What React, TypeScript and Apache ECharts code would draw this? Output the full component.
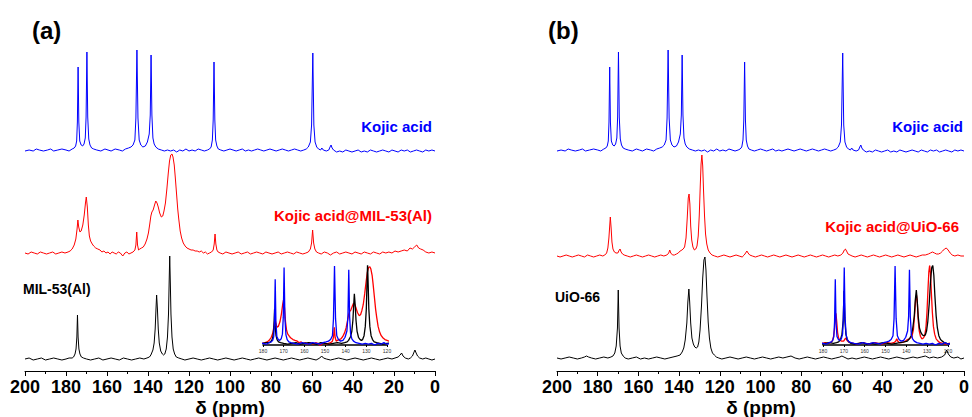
import React, { useEffect, useRef } from "react";
import * as echarts from "echarts";

// ---- Data: [chemical shift (ppm), intensity (a.u., baseline = 0)] ----
const kojicAcid: number[][] = [
  [200,-1],[198,0],[196,-1],[194.5,1],[193,0],[191,-1],[189,0],[187.5,1],[186,-1],[184,0],[182,1],[180,0],[178.5,-1],[177,1],
  [176,2],[175.3,4],[174.8,9],[174.45,28],[174.1,83],[173.75,28],[173.3,9],[172.6,5],[171.9,4],[171.2,6],[170.6,12],[170.2,33],[169.8,98],[169.4,33],[168.9,11],[168.3,5],[167.5,2],[166.5,1],
  [165,0],[163,-1],[161,1],[159.5,0],[158,-1],[156,1],[154,0],[152.5,-1],[151,1],[149.5,2],[148.3,3],
  [147.3,5],[146.4,10],[145.9,32],[145.4,100],[144.9,32],[144.3,10],[143.5,5],[142.5,3],[141.3,4],[140.3,8],[139.4,16],[138.9,35],[138.5,95],[138.1,35],[137.6,12],[137,6],[136.2,3],[135,1],
  [133.5,0],[132,-1],[130.5,0],[129,-1],[127.5,0],[126,-2],[124.5,0],[123,-1],[121.5,1],[120,-1],[118.5,0],[117,-1],[115.5,1],[114,0],[112.5,-1],[111,0],[110,1],[109.2,3],[108.6,10],[108.2,30],[107.8,88],[107.4,30],[107,10],[106.4,4],[105.7,1],
  [104.5,0],[103,-1],[101.5,0],[100,1],[98.5,0],[97,-1],[95.5,0],[94,1],[92.5,-1],[91,0],[89.5,-1],[88,0],[86.5,1],[85,0],[83.5,-1],[82,0],[80.5,1],[79,0],[77.5,-1],[76,0],[74.5,1],[73,0],[71.5,-1],[70,0],[68.5,1],[67,0],[65.5,-1],[64,0],[62.8,1],[61.8,3],[60.8,8],[60.2,25],[59.6,97],[59.1,25],[58.5,8],[57.7,3],[56.8,1],[55.8,0],[55.2,2],[54.5,0],[53,-1],[51.8,0],[51.2,3],[50.7,5],[50.2,2],[49.5,0],
  [48,-2],[46.5,-1],[45,-2],[43.5,0],[42,-1],[40.5,-2],[39,-1],[37.5,0],[36,-2],[34.5,-1],[33,-2],[31.5,0],[30,-1],[28.5,-2],[27,-1],[25.5,0],[24,-1],[22.5,-2],[21,0],[19.5,-1],[18,-2],[16.5,0],[15,-1],[13.5,0],[12,-2],[10.5,-1],[9,0],[7.5,-1],[6,-2],[4.5,0],[3,-1],[1.5,0],[0,-1],
];

const kojicMil53: number[][] = [
  [200,0],[198.5,-1],[197,1],[195.5,0],[194,-1],[192.5,1],[191,0],[189.5,-1],[188,0],[186.5,1],[185,-1],[183.5,0],[182,1],[180.5,0],[179,1],[178,2],[177,4],[176,8],[175.2,14],[174.6,24],[174.2,33],[173.8,26],[173.2,21],[172.6,22],[171.8,28],[171.1,38],[170.5,50],[170.1,56],[169.6,46],[169.1,28],[168.6,17],[168,12],[167.2,9],[166.5,7],[165.5,5],[164.5,4],[163.4,3],[162.5,1],[161.5,2],[160.5,0],[159.5,1],[158.5,-1],[157.5,1],[156.5,0],[155.5,-1],[154.5,1],[153.5,0],[152.3,-3],[151.3,0],[150.3,1],[149.3,-1],[148.3,0],[147.3,1],
  [146.4,3],[145.9,8],[145.5,21],[145.1,8],[144.6,3],[144,4],[143.2,5],[142.3,6],[141.4,9],[140.5,14],[139.8,20],[139.2,28],[138.6,37],[138.1,41],[137.5,43],[136.8,48],[136.2,52],[135.6,50],[135,46],[134.3,40],[133.5,36],[132.8,37],[132.2,42],[131.5,50],[130.8,64],[130.1,80],[129.5,92],[128.9,98],[128.3,99],[127.8,96],[127.2,88],[126.7,76],[126.1,60],[125.5,44],[125,34],[124.3,22],[123.6,15],[122.8,10],[121.9,7],[121,5],[120,4],[119,3],[118,3],[117,2],[116,2],[115,1],[114,2],[113,0],[112,1],[111,-1],[110,0],[109,1],
  [108.2,3],[107.7,9],[107.3,19],[106.9,9],[106.4,3],[105.8,1],[104.8,0],[103.5,-1],[102,1],[100.5,0],[99,-1],[97.5,0],[96,1],[94.5,-1],[93,0],[91.5,1],[90,-1],[88.5,0],[87,1],[85.5,0],[84,-1],[82.5,1],[81,0],[79.5,-1],[78,0],[76.5,1],[75,-1],[73.5,0],[72,1],[70.5,0],[69,-1],[67.5,1],[66,0],[64.5,-1],[63,0],[61.8,1],[60.8,4],[60.2,10],[59.7,23],[59.2,10],[58.6,4],[57.8,1],[56.8,0],[55.5,-1],[54,1],[52.5,0],[51,-2],[49.5,0],[48,1],[46.5,-1],[45,0],[43.5,1],[42,0],[40.5,-1],[39,1],[37.5,0],[36,-1],[34.5,1],[33,0],[31.5,-1],[30,1],[28.5,0],[27,-1],[25.5,1],[24,0],[22.5,1],[21,0],[19.5,2],[18,1],[16.5,2],[15,3],[13.5,2],[12.2,5],[11,4],[10,6],[8.9,8],[8,5],[7,4],[5.8,3],[4.5,1],[3,0],[1.5,1],[0,0],
];

const mil53: number[][] = [
  [200,0],[198,1],[196,-1],[194,0],[192,1],[190,-1],[188,0],[186,1],[184,0],[182,-1],[180,0],[178.5,1],[177,1],[176.3,2],[175.6,5],[175.1,10],[174.7,22],[174.4,44],[174.1,22],[173.7,10],[173.2,5],[172.5,2],[171.5,1],[170,0],[168,-1],[166,0],[164,1],[162,-1],[160,0],[158,1],[156,0],[154,-1],[152,1],[150,0],[148,-1],[146,0],[144,1],[142,0],[140.5,1],[139.3,2],
  [138.6,4],[137.6,9],[137,16],[136.5,30],[136.1,50],[135.8,64],[135.4,50],[135,30],[134.5,16],[133.8,8],[133,5],[132.4,4],[131.8,5],[131.1,10],[130.5,22],[130,45],[129.7,75],[129.4,103],[129.1,75],[128.8,45],[128.3,22],[127.7,10],[127,5],[126.2,2],[125,1],
  [123.5,0],[122,-1],[120,0],[118,1],[116,0],[114,-1],[112,0],[110,1],[108,0],[106,-1],[104,0],[102,1],[100,0],[98,-1],[96,0],[94,1],[92,0],[90,-1],[88,0],[86,1],[84,0],[82,-1],[80,0],[78,1],[76,0],[74,-1],[72,0],[70,1],[68,0],[66,-1],[64,0],[62,1],[60,0],[58,-1],[56.2,1],[55.3,3],[54.4,1],[53,0],[51,-1],[49,0],[47,1],[45,0],[43,-1],[41,0],[39,1],[37,0],[35,-1],[33,0],[31,1],[29,0],[27,-1],[25,0],[23,1],[21,0],[19.5,1],[18,2],[17,4],[16.3,6],[15.6,3],[14.5,1],[13,0],[12,1],[11,3],[10.4,6],[9.8,9],[9.2,6],[8.5,3],[7.5,1],[6,0],[4.5,1],[3,0],[1.5,-1],[0,0],
];

const kojicUio66: number[][] = [
  [200,0],[198.5,-1],[197,0],[195.5,1],[194,0],[192.5,-1],[191,0],[189.5,1],[188,0],[186.5,-1],[185,1],[183.5,0],[182,-1],[180.5,0],[179,1],[177.5,0],[176.5,1],[175.6,3],[175,8],[174.5,18],[174.1,30],[173.8,39],[173.4,28],[173,14],[172.5,7],[171.8,4],[171,3],[170.1,3],[169.4,6],[169,7],[168.5,4],[167.8,2],[167,1],[165.5,0],[164,-1],[162.5,0],[161,1],[159.5,0],[158,-1],[156.5,0],[155,1],[153.5,0],[152,-1],[150.5,0],[149,1],[147.5,0],[146,1],
  [145.1,3],[144.6,6],[144.1,3],[143.2,1],[142.3,1],[141.3,2],[140.4,3],[139.5,5],[138.6,6],[138,7],[137.3,9],[136.6,18],[136,38],[135.5,58],[135.1,62],[134.7,52],[134.3,30],[133.8,16],[133.2,9],[132.5,6],[131.8,7],[131.2,10],[130.6,20],[130.1,40],[129.6,70],[129.2,92],[128.8,101],[128.4,90],[128,66],[127.5,40],[127,22],[126.4,12],[125.7,6],[124.8,3],[123.8,1],
  [122.5,0],[121,-1],[119.5,0],[118,1],[116.5,0],[115,-1],[113.5,0],[112,1],[110.5,0],[109,-1],[108,1],[107.3,3],[106.7,5],[106.1,3],[105.3,1],[104,0],[102.5,-1],[101,0],[99.5,1],[98,0],[96.5,-1],[95,0],[93.5,1],[92,0],[90.5,-1],[89,0],[87.5,1],[86,0],[84.5,-1],[83,0],[81.5,1],[80,0],[78.5,-1],[77,0],[75.5,1],[74,0],[72.5,-1],[71,0],[69.5,1],[68,0],[66.5,-1],[65,0],[63.5,1],[62,0],[60.5,1],[59.5,3],[58.8,6],[58.3,7],[57.7,5],[57,2],[56,1],[55,0],[53.5,-1],[52,0],[50.5,1],[49,0],[47.5,-1],[46,0],[44.5,1],[43,0],[41.5,-1],[40,0],[38.5,1],[37,0],[35.5,-1],[34,0],[32.5,1],[31,0],[29.5,-1],[28,0],[26.5,1],[25,0],[23.5,-1],[22,0],[20.5,1],[19,1],[17.5,2],[16.5,3],[15.5,4],[14.5,3],[13.5,2],[12.5,2],[11.5,3],[10.5,5],[9.6,7],[8.7,8],[7.8,6],[6.8,3],[5.8,1],[4.5,0],[3,1],[1.5,0],[0,0],
];

const uio66: number[][] = [
  [200,0],[198,-1],[196,0],[194,1],[192,0],[190,-1],[188,0],[186.5,1],[185.5,2],[184.5,1],[183,0],[181,-1],[179,0],[177,1],[175,0],[173.5,1],[172.5,2],[171.6,5],[170.9,12],[170.3,30],[169.9,68],[169.5,30],[169,12],[168.4,5],[167.5,2],[166.5,0],[165,-1],[163,0],[161,1],[159,-1],[157,0],[155,-1],[153,0],[151,1],[149,0],[147,-1],[145,0],[143,1],[141,2],[139.5,3],
  [138.5,6],[137.7,10],[137,18],[136.2,35],[135.7,56],[135.2,69],[134.8,56],[134.3,35],[133.7,20],[133,14],[132.3,11],[131.6,10],[130.9,11],[130.3,16],[129.7,28],[129,52],[128.4,80],[127.8,98],[127.3,101],[126.8,88],[126.3,62],[125.7,36],[125.1,20],[124.4,10],[123.6,5],[122.7,3],[121.7,1],
  [120.5,0],[119,-1],[117,0],[115,1],[113,0],[111,-1],[109,0],[107,1],[105,0],[103,-1],[101,0],[99,1],[97,0],[95,-1],[93,0],[91,1],[89,0],[87,1],[85,2],[83,0],[81,-1],[79,0],[77,1],[75,0],[73,-1],[71,0],[69,1],[67,0],[65,-1],[63,0],[61,1],[60,2],[59,1],[57,-1],[55,0],[53,-1],[51,0],[49,1],[47,0],[45,-1],[43,0],[41,1],[39,0],[37,-1],[35,0],[33,1],[31,0],[29,-1],[27,0],[25,1],[23,0],[21,1],[19,2],[17,0],[15,1],[13,0],[11,1],[9.5,3],[8.5,8],[7.7,4],[6.5,1],[5,0],[3,1],[1.5,-1],[0,0],
];

const mainTicks = { min: 0, max: 200, interval: 20 };
const insetTicks = { min: 120, max: 180, interval: 10 };
const panelLetters = ["(a)", "(b)"];
const traceNames = ["Kojic acid", "Kojic acid@MIL-53(Al)", "MIL-53(Al)", "Kojic acid@UiO-66", "UiO-66"];
const axisTitle = "δ (ppm)";

const FONT = "'Liberation Sans', Arial, Helvetica, sans-serif";
const BLUE = "#0000ff";
const RED = "#ff0000";
const BLACK = "#000000";

// stacking offsets (intensity units) for the traces in the main panels
const OFF_TOP = 221;
const OFF_A_MID = 118;
const OFF_A_BOT = 12;
const OFF_B_MID = 115;
const OFF_B_BOT = 13;

const shift = (d: number[][], off: number) => d.map(([x, y]) => [x, y + off]);

function mainXAxis(gridIndex: number) {
  return {
    type: "value",
    gridIndex,
    min: mainTicks.min,
    max: mainTicks.max,
    interval: mainTicks.interval,
    inverse: true,
    splitLine: { show: false },
    axisLine: { show: true, onZero: false, lineStyle: { color: BLACK, width: 1 } },
    axisTick: { show: true, length: 5, lineStyle: { color: BLACK, width: 1 } },
    minorTick: { show: true, splitNumber: 2, length: 3, lineStyle: { color: BLACK, width: 1 } },
    axisLabel: { color: BLACK, fontSize: 18, fontWeight: "bold", fontFamily: FONT, margin: 7, lineHeight: 18 },
  };
}

function insetXAxis(gridIndex: number) {
  return {
    type: "value",
    gridIndex,
    min: insetTicks.min,
    max: insetTicks.max,
    interval: insetTicks.interval,
    inverse: true,
    splitLine: { show: false },
    axisLine: { show: true, onZero: false, lineStyle: { color: BLACK, width: 1.5 } },
    axisTick: { show: true, length: 2, lineStyle: { color: BLACK, width: 1 } },
    axisLabel: { color: "#333", fontSize: 5, fontFamily: FONT, margin: 3 },
  };
}

function yAxis(gridIndex: number, min: number, max: number) {
  return { type: "value", gridIndex, min, max, show: false, splitLine: { show: false } };
}

function line(name: string, data: number[][], color: string, axisIndex: number, width: number, z: number) {
  return {
    type: "line",
    name,
    data,
    xAxisIndex: axisIndex,
    yAxisIndex: axisIndex,
    symbol: "none",
    showSymbol: false,
    clip: true,
    z,
    lineStyle: { color, width },
    itemStyle: { color },
    emphasis: { disabled: true },
  };
}

function label(text: string, x: number, y: number, fill: string, align: string, size = 15) {
  return {
    type: "text",
    x,
    y,
    style: { text, fill, font: `bold ${size}px ${FONT}`, align, verticalAlign: "middle", lineHeight: size },
  };
}

export default function App() {
  const ref = useRef<HTMLDivElement>(null);

  useEffect(() => {
    if (!ref.current) return;
    const chart = echarts.init(ref.current, undefined, { renderer: "svg" });
    const option: any = {
      animation: false,
      backgroundColor: "#ffffff",
      grid: [
        { left: 25, top: 40, width: 410, height: 331 },
        { left: 557, top: 40, width: 408, height: 331 },
        { left: 263, top: 266, width: 124, height: 79 },
        { left: 823, top: 266, width: 125, height: 79 },
      ],
      xAxis: [mainXAxis(0), mainXAxis(1), insetXAxis(2), insetXAxis(3)],
      yAxis: [yAxis(0, 0, 331), yAxis(1, 0, 331), yAxis(2, -2, 100), yAxis(3, -2, 100)],
      series: [
        // panel (a)
        line(traceNames[0], shift(kojicAcid, OFF_TOP), BLUE, 0, 1, 3),
        line(traceNames[1], shift(kojicMil53, OFF_A_MID), RED, 0, 1, 2),
        line(traceNames[2], shift(mil53, OFF_A_BOT), BLACK, 0, 1, 4),
        // panel (b)
        line(traceNames[0], shift(kojicAcid, OFF_TOP), BLUE, 1, 1, 3),
        line(traceNames[3], shift(kojicUio66, OFF_B_MID), RED, 1, 1, 2),
        line(traceNames[4], shift(uio66, OFF_B_BOT), BLACK, 1, 1, 4),
        // inset (a)
        line(traceNames[1], kojicMil53, RED, 2, 1.3, 5),
        line(traceNames[2], mil53, BLACK, 2, 1.3, 6),
        line(traceNames[0], kojicAcid, BLUE, 2, 1.3, 7),
        // inset (b)
        line(traceNames[3], kojicUio66, RED, 3, 1.3, 5),
        line(traceNames[4], uio66, BLACK, 3, 1.3, 6),
        line(traceNames[0], kojicAcid, BLUE, 3, 1.3, 7),
      ],
      graphic: [
        label(panelLetters[0], 32, 30, BLACK, "left", 24),
        label(panelLetters[1], 548, 30, BLACK, "left", 24),
        label(traceNames[0], 432, 126, BLUE, "right"),
        label(traceNames[1], 432, 215, RED, "right"),
        label(traceNames[2], 23, 289, BLACK, "left", 14),
        label(traceNames[0], 963, 126, BLUE, "right"),
        label(traceNames[3], 959, 226, RED, "right"),
        label(traceNames[4], 555, 297, BLACK, "left", 14),
        label(axisTitle, 230, 407, BLACK, "center", 19),
        label(axisTitle, 761, 407, BLACK, "center", 19),
      ],
    };
    chart.setOption(option);
    return () => chart.dispose();
  }, []);

  return (
    <div
      ref={ref}
      style={{ position: "fixed", left: 0, top: 0, width: 972, height: 417, background: "#fff" }}
    />
  );
}
